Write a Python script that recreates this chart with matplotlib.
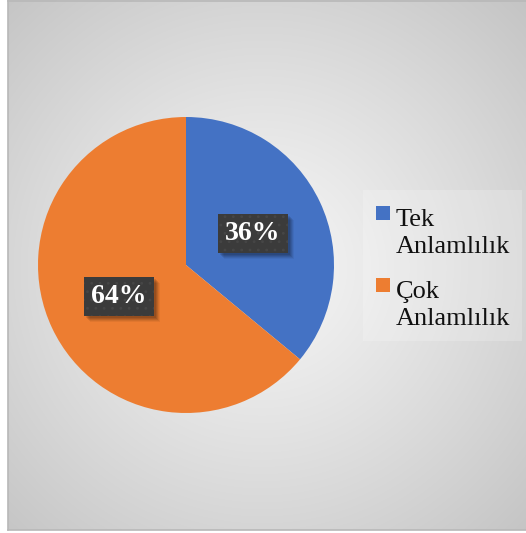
import numpy as np
import matplotlib
matplotlib.use("Agg")
import matplotlib.pyplot as plt
from matplotlib.patches import Rectangle

# Data
categories = ["Tek Anlamlılık", "Çok Anlamlılık"]
values = [36, 64]
colors = ["#4472C4", "#ED7D31"]

W, H = 526, 533
fig = plt.figure(figsize=(W / 100, H / 100), dpi=100)
fig.patch.set_facecolor("white")

# Background panel with radial gradient (pixel coordinates, y down)
bg = fig.add_axes([0, 0, 1, 1], zorder=0)
bg.set_xlim(0, W)
bg.set_ylim(H, 0)
bg.axis("off")
x0, x1, y0, y1 = 8, W + 4, 0, 530
xx, yy = np.meshgrid(np.linspace(x0, x1, 400), np.linspace(y0, y1, 400))
cx, cy = 262, 268
r = np.hypot(xx - cx, yy - cy)
r = r / np.hypot(x1 - cx, y1 - cy)
c_in, c_out = 0.965, 0.77
shade = c_in - (c_in - c_out) * np.clip(r, 0, 1) ** 1.15
img = np.dstack([shade, shade, shade])
bg.imshow(img, extent=(x0, x1, y1, y0), aspect="auto", interpolation="bilinear", zorder=0)
bg.plot([x0 - 0.5, x0 - 0.5], [y0, y1], color="#b8b8b8", lw=1.2, zorder=1)
bg.plot([x0, x1], [y0 + 0.5, y0 + 0.5], color="#b8b8b8", lw=1.2, zorder=1)
bg.plot([x0, x1], [y1 - 0.5, y1 - 0.5], color="#b8b8b8", lw=1.2, zorder=1)

# Legend backdrop
bg.add_patch(Rectangle((363, 190), 159, 151, facecolor="white", alpha=0.2,
                       edgecolor="none", zorder=2))

# Pie
pcx, pcy, pr = 186, 265, 148
ax = fig.add_axes([(pcx - pr) / W, 1 - (pcy + pr) / H, 2 * pr / W, 2 * pr / H], zorder=2)
ax.patch.set_alpha(0)
wedges, autotexts = ax.pie(
    values, colors=colors, startangle=90, counterclock=False,
    autopct=lambda p: f"{p:.0f}%", pctdistance=0.5,
    textprops=dict(color="white", fontsize=20, fontweight="bold",
                   family="Liberation Serif"),
    wedgeprops=dict(linewidth=0),
)[0::2]
ax.set_xlim(-1, 1)
ax.set_ylim(-1, 1)
ax.set_aspect("equal")
ax.axis("off")

plt.rcParams["hatch.linewidth"] = 0.8
for t in autotexts:
    t.set_bbox(dict(boxstyle="square,pad=0.26", facecolor="#3b3b3b",
                    edgecolor="#464646", linewidth=0, hatch=".."))

# Soft drop shadows under the label boxes, drawn on a layer between pie and labels
fig.canvas.draw()
shadow = fig.add_axes([0, 0, 1, 1], zorder=2.5)
shadow.set_xlim(0, W)
shadow.set_ylim(H, 0)
shadow.axis("off")
shadow.patch.set_alpha(0)
for t in autotexts:
    ext = t.get_bbox_patch().get_window_extent()
    bx, by, bw, bh = ext.x0, H - ext.y1, ext.width, ext.height
    for d, a in [(2, 0.10), (3, 0.10), (4, 0.09), (5, 0.07), (6, 0.05)]:
        shadow.add_patch(Rectangle((bx + d, by + d), bw, bh, facecolor="black",
                                   alpha=a, edgecolor="none"))

# Label layer on top of the shadows
for t in autotexts:
    t.set_zorder(5)
ax.set_zorder(2)
top_ax = fig.add_axes(ax.get_position(), zorder=3)
top_ax.set_xlim(-1, 1)
top_ax.set_ylim(-1, 1)
top_ax.set_aspect("equal")
top_ax.axis("off")
top_ax.patch.set_alpha(0)
for t in autotexts:
    px, py = t.get_position()
    top_ax.text(px, py, t.get_text(), ha="center", va="center", color="white",
                fontsize=20, fontweight="bold", family="Liberation Serif",
                bbox=dict(boxstyle="square,pad=0.26", facecolor="#3b3b3b",
                          edgecolor="#464646", linewidth=0, hatch=".."))
    t.remove()

# Legend entries
entry_tops = [206, 278]
line_gap = 31
for cat, col, top in zip(categories, colors, entry_tops):
    bg.add_patch(Rectangle((376, top), 14, 14, facecolor=col, edgecolor="none", zorder=3))
    bg.text(396, top + 16 + line_gap, cat.replace(" ", "\n"), family="Liberation Serif",
            fontsize=19, color="#111111", va="baseline", ha="left",
            linespacing=1.31, zorder=3)

fig.savefig("out.png", dpi=100)
